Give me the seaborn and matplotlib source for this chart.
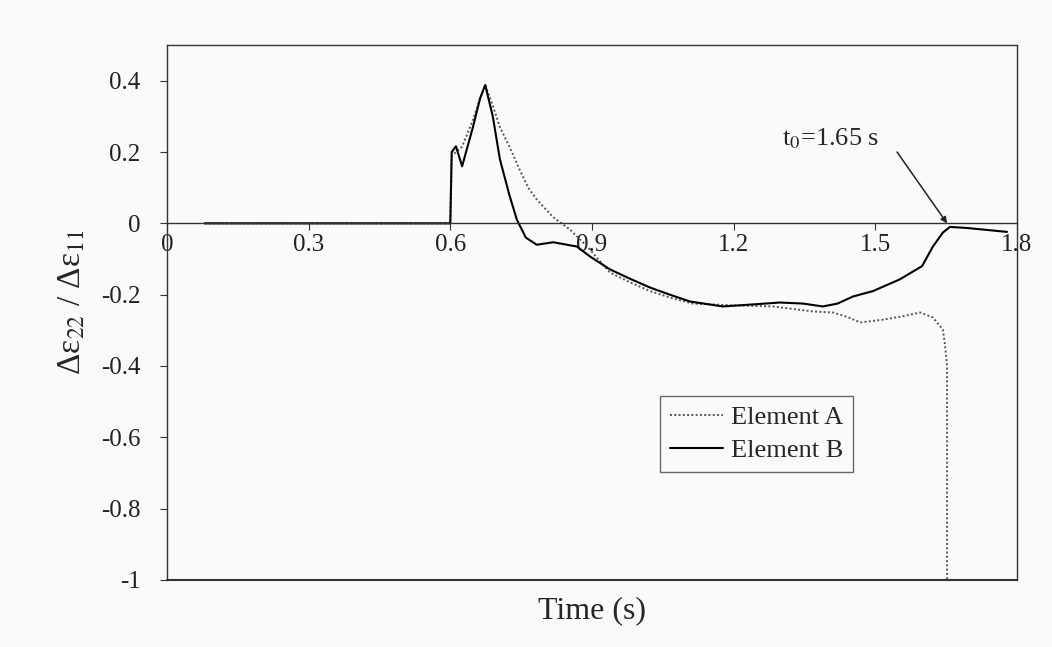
import numpy as np
import pandas as pd
import matplotlib; matplotlib.use("Agg")
import matplotlib.pyplot as plt
import seaborn as sns

sns.set_theme(style="white")
plt.rcParams["font.family"] = ["Liberation Serif", "DejaVu Serif"]
plt.rcParams["mathtext.fontset"] = "stix"

# ── data ────────────────────────────────────────────────────────────
t_a = [0.08, 0.6, 0.603, 0.612, 0.625, 0.648, 0.663, 0.674, 0.69, 0.705, 0.727,
       0.747, 0.765, 0.783, 0.818, 0.853, 0.89, 0.938, 0.98, 1.023, 1.07, 1.114,
       1.199, 1.283, 1.368, 1.41, 1.44, 1.468, 1.517, 1.56, 1.595, 1.622, 1.643,
       1.647, 1.652, 1.652]
y_a = [0, 0, 0.19, 0.2, 0.215, 0.29, 0.35, 0.388, 0.33, 0.27, 0.21,
       0.15, 0.1, 0.067, 0.017, -0.017, -0.065, -0.138, -0.165, -0.19, -0.21, -0.225,
       -0.23, -0.233, -0.247, -0.25, -0.262, -0.278, -0.27, -0.26, -0.25, -0.264, -0.298,
       -0.334, -0.4, -1.0]

t_b = [0.08, 0.6, 0.603, 0.612, 0.625, 0.648, 0.663, 0.674, 0.69, 0.705, 0.725,
       0.741, 0.76, 0.783, 0.818, 0.868, 0.896, 0.938, 0.98, 1.023, 1.065, 1.107,
       1.177, 1.234, 1.298, 1.347, 1.389, 1.42, 1.453, 1.495, 1.552, 1.599, 1.622,
       1.643, 1.658, 1.694, 1.779]
y_b = [0, 0, 0.2, 0.216, 0.16, 0.27, 0.35, 0.388, 0.3, 0.18, 0.08,
       0.01, -0.04, -0.06, -0.053, -0.065, -0.093, -0.129, -0.155, -0.18, -0.2, -0.219,
       -0.233, -0.228, -0.222, -0.225, -0.233, -0.225, -0.205, -0.19, -0.157, -0.12, -0.065,
       -0.026, -0.01, -0.013, -0.024]

x_ticks = [0, 0.3, 0.6, 0.9, 1.2, 1.5, 1.8]
y_ticks = [-1, -0.8, -0.6, -0.4, -0.2, 0, 0.2, 0.4]

t0 = 1.652
t0_text = r"t$_0$=1.65 s"

BG = "#fafafa"
fig = plt.figure(figsize=(10.52, 6.47), dpi=100, facecolor=BG)
ax = fig.add_axes([0.1587, 0.1036, 0.8080, 0.8268], facecolor=BG)

sns.lineplot(x=t_a, y=y_a, ax=ax, sort=False, estimator=None, color="#555555",
             linestyle=(0, (1, 1.2)), linewidth=1.4, label="Element A")
sns.lineplot(x=t_b, y=y_b, ax=ax, sort=False, estimator=None, color="black",
             linewidth=1.5, label="Element B")

ax.set_xlim(0, 1.8)
ax.set_ylim(-1, 0.5)

# x axis crosses at y=0, frame kept around the plot area
ax.spines["bottom"].set_position(("data", 0))
for s in ax.spines.values():
    s.set_color("#333333")
    s.set_linewidth(1.0)
ax.axhline(-1, color="#333333", linewidth=1.5, clip_on=False)

ax.set_xticks(x_ticks)
ax.set_xticklabels([f"{v:g}" for v in x_ticks])
ax.set_yticks(y_ticks)
ax.set_yticklabels([f"{v:g}" for v in y_ticks])
ax.tick_params(axis="both", direction="out", length=5, width=0.8,
               color="#333333", labelsize=18, labelcolor="#222222",
               bottom=True, left=True)
ax.tick_params(axis="x", pad=3)
ax.tick_params(axis="y", pad=14)

ax.set_ylabel("")
ax.text(-0.111, 0.52, "Δε$_{22}$ / Δε$_{11}$", transform=ax.transAxes,
        rotation=90, ha="center", va="center", fontsize=24)
ax.text(0.5, -0.058, "Time (s)", transform=ax.transAxes, ha="center", va="center",
        fontsize=23)

ax.text(1.302, 0.236, t0_text, fontsize=19, ha="left", va="center")
ax.annotate("", xy=(t0, 0.0), xytext=(1.546, 0.2),
            arrowprops=dict(arrowstyle="-|>", color="#222222", lw=1.1,
                            shrinkA=0, shrinkB=0, mutation_scale=9))

leg = ax.legend(loc="upper left", bbox_to_anchor=(0.58, 0.344), fontsize=19,
                frameon=True, fancybox=False, handlelength=2.0, handletextpad=0.3,
                borderpad=0.38, labelspacing=0.35, borderaxespad=0)
leg.get_frame().set_edgecolor("#444444")
leg.get_frame().set_linewidth(1.0)
leg.get_frame().set_facecolor(BG)

plt.savefig("out.png", dpi=100, facecolor=BG)
plt.close()
